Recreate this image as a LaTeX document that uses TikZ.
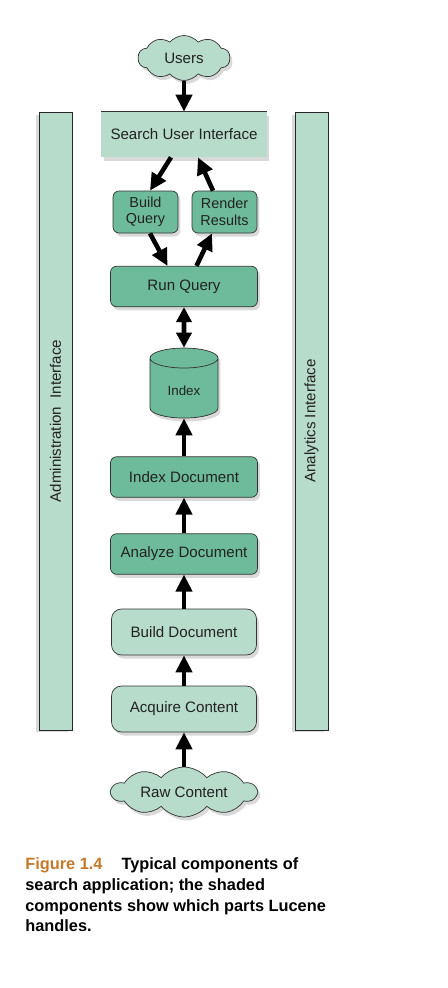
\documentclass[tikz,border=0pt]{standalone}
\usepackage{fontspec}
\setmainfont{Liberation Sans}
\usepackage{tikz}
\usetikzlibrary{
  shapes.geometric,
  shapes.symbols,
  shadows,
  arrows.meta
}

\definecolor{palegreen}{HTML}{B7DCCB}
\definecolor{darkgreen}{HTML}{6DBB9B}
\definecolor{figorange}{HTML}{C4782A}
\definecolor{textgray}{HTML}{222222}

\tikzset{
  softshadow/.style = {drop shadow={shadow xshift=0.05cm, shadow yshift=-0.07cm, opacity=0.3}},
  lightbox/.style = {draw=black!80, thin, fill=palegreen, text=textgray, rounded corners=0.2cm,
    minimum width=2.9cm, minimum height=0.92cm, softshadow},
  darkbox/.style = {draw=black!80, thin, fill=darkgreen, text=textgray, rounded corners=0.12cm,
    minimum width=2.94cm, minimum height=0.81cm, softshadow},
  smallbox/.style = {darkbox, minimum width=1.3cm, minimum height=0.84cm, align=center,
    font=\fontsize{8.2}{9.4}\selectfont},
  sidebar/.style = {draw=black!85, fill=palegreen, text=textgray, rotate=90,
    minimum width=12.36cm, minimum height=0.66cm,
    drop shadow={shadow xshift=-0.07cm, shadow yshift=-0.05cm, opacity=0.3}},
  cloudbox/.style = {cloud, cloud puffs=10, cloud puff arc=100, cloud ignores aspect, inner sep=0pt,
    draw=black!80, fill=palegreen, text=textgray, softshadow},
  indexdb/.style = {cylinder, shape border rotate=90, aspect=0.45, draw=black!80, fill=darkgreen,
    text=textgray, minimum width=1.36cm, minimum height=1.4cm, softshadow,
    font=\fontsize{7.6}{8.6}\selectfont},
  pointer/.style = {line width=2.6pt, -{Triangle[length=0.34cm, width=0.32cm]}},
  twoway/.style = {line width=2.6pt, {Triangle[length=0.3cm, width=0.3cm]}-{Triangle[length=0.3cm, width=0.3cm]}}
}

\begin{document}
\begin{tikzpicture}[x=0.02cm, y=-0.02cm, font=\fontsize{8.6}{9.6}\selectfont]
\useasboundingbox (0,0) rectangle (448,988);

% side bars
\node[sidebar] (admin) at (55.5,421) {Administration\hspace{0.08cm} Interface};
\node[sidebar] (analytics) at (311.5,421) {Analytics Interface};

% query side
\node[cloudbox, minimum width=1.84cm, minimum height=0.9cm] (users) at (184,58) {Users};
\node[fill=palegreen, text=textgray, minimum width=3.32cm, minimum height=0.9cm, softshadow] (sui) at (184,134.5) {Search User Interface};
\draw[black!80] (sui.north west) -- (sui.north east);

\node[smallbox] (build) at (145.5,212) {Build\\Query};
\node[smallbox] (render) at (224.5,212) {Render\\Results};
\node[darkbox] (run) at (184,286.5) {Run Query};

\node[indexdb] (index) at (184,391) {Index};

% indexing side
\node[darkbox] (indexdoc) at (184,477) {Index Document};
\node[darkbox] (analyze) at (184,554) {Analyze Document};
\node[lightbox] (builddoc) at (184,632) {Build Document};
\node[lightbox] (acquire) at (184,709) {Acquire Content};
\node[cloudbox, minimum width=2.9cm, minimum height=1cm] (raw) at (184,792) {Raw Content};

\draw[pointer] (users) -- (sui);
\draw[pointer] ([xshift=-0.26cm]sui.south) -- ([xshift=0.09cm]build.north);
\draw[pointer] ([xshift=-0.23cm]render.north) -- ([xshift=0.28cm]sui.south);
\draw[pointer] ([xshift=0.09cm]build.south) -- ([xshift=-0.33cm]run.north);
\draw[pointer] ([xshift=0.25cm]run.north) -- ([xshift=-0.25cm]render.south);
\draw[twoway] (run) -- (index);

\draw[pointer] (indexdoc) -- (index);
\draw[pointer] (analyze) -- (indexdoc);
\draw[pointer] (builddoc) -- (analyze);
\draw[pointer] (acquire) -- (builddoc);
\draw[pointer] (raw) -- (acquire);

\node[anchor=north west, inner sep=0, align=left, font=\fontsize{9.3}{11.9}\selectfont\bfseries] (caption) at (25,857)
  {\textcolor{figorange}{Figure 1.4}\hspace{0.38cm}Typical components of\\search application; the shaded\\components show which parts Lucene\\handles.};

\end{tikzpicture}
\end{document}
